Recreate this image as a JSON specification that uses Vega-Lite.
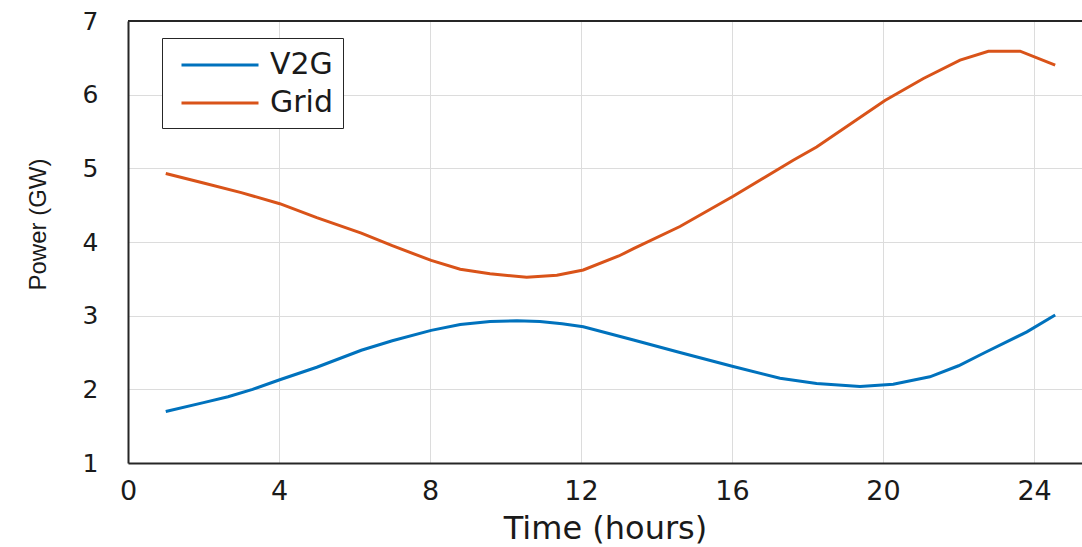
{
  "$schema": "https://vega.github.io/schema/vega-lite/v6.json",
  "width": 954,
  "height": 442,
  "autosize": {"type": "none"},
  "padding": {"left": 128, "top": 21, "right": 0, "bottom": 84},
  "background": "white",
  "config": {
    "view": {"stroke": null},
    "axis": {
      "domainColor": "#262626",
      "domainWidth": 2,
      "grid": true,
      "gridColor": "#dcdcdc",
      "gridWidth": 1,
      "ticks": false,
      "labelColor": "#1a1a1a",
      "titleColor": "#1a1a1a",
      "labelFlush": false,
      "titleFontWeight": "normal"
    }
  },
  "layer": [
    {
      "data": {"values": [{}]},
      "mark": {"type": "rule", "color": "#262626", "strokeWidth": 2},
      "encoding": {
        "y": {"datum": 7, "type": "quantitative", "scale": {"domain": [1, 7], "nice": false, "zero": false}}
      }
    },
    {
      "data": {
        "values": [
          {"t": 1.0, "v": 1.70, "series": "V2G"},
          {"t": 2.0, "v": 1.82, "series": "V2G"},
          {"t": 2.65, "v": 1.90, "series": "V2G"},
          {"t": 3.3, "v": 2.00, "series": "V2G"},
          {"t": 4.02, "v": 2.13, "series": "V2G"},
          {"t": 5.0, "v": 2.30, "series": "V2G"},
          {"t": 6.18, "v": 2.53, "series": "V2G"},
          {"t": 7.0, "v": 2.66, "series": "V2G"},
          {"t": 8.03, "v": 2.80, "series": "V2G"},
          {"t": 8.8, "v": 2.88, "series": "V2G"},
          {"t": 9.59, "v": 2.92, "series": "V2G"},
          {"t": 10.3, "v": 2.93, "series": "V2G"},
          {"t": 10.91, "v": 2.92, "series": "V2G"},
          {"t": 11.5, "v": 2.89, "series": "V2G"},
          {"t": 12.06, "v": 2.85, "series": "V2G"},
          {"t": 13.39, "v": 2.67, "series": "V2G"},
          {"t": 14.62, "v": 2.50, "series": "V2G"},
          {"t": 16.03, "v": 2.31, "series": "V2G"},
          {"t": 17.27, "v": 2.15, "series": "V2G"},
          {"t": 18.24, "v": 2.08, "series": "V2G"},
          {"t": 19.39, "v": 2.04, "series": "V2G"},
          {"t": 20.27, "v": 2.07, "series": "V2G"},
          {"t": 21.24, "v": 2.17, "series": "V2G"},
          {"t": 22.0, "v": 2.32, "series": "V2G"},
          {"t": 22.66, "v": 2.49, "series": "V2G"},
          {"t": 23.81, "v": 2.78, "series": "V2G"},
          {"t": 24.56, "v": 3.01, "series": "V2G"},
          {"t": 1.0, "v": 4.93, "series": "Grid"},
          {"t": 2.0, "v": 4.80, "series": "Grid"},
          {"t": 3.0, "v": 4.67, "series": "Grid"},
          {"t": 4.02, "v": 4.52, "series": "Grid"},
          {"t": 5.0, "v": 4.33, "series": "Grid"},
          {"t": 6.18, "v": 4.12, "series": "Grid"},
          {"t": 7.0, "v": 3.95, "series": "Grid"},
          {"t": 8.03, "v": 3.75, "series": "Grid"},
          {"t": 8.8, "v": 3.63, "series": "Grid"},
          {"t": 9.59, "v": 3.57, "series": "Grid"},
          {"t": 10.56, "v": 3.52, "series": "Grid"},
          {"t": 11.36, "v": 3.55, "series": "Grid"},
          {"t": 12.06, "v": 3.62, "series": "Grid"},
          {"t": 13.0, "v": 3.81, "series": "Grid"},
          {"t": 13.39, "v": 3.91, "series": "Grid"},
          {"t": 14.62, "v": 4.21, "series": "Grid"},
          {"t": 16.03, "v": 4.62, "series": "Grid"},
          {"t": 17.62, "v": 5.11, "series": "Grid"},
          {"t": 18.24, "v": 5.29, "series": "Grid"},
          {"t": 20.05, "v": 5.92, "series": "Grid"},
          {"t": 21.07, "v": 6.22, "series": "Grid"},
          {"t": 22.04, "v": 6.47, "series": "Grid"},
          {"t": 22.79, "v": 6.59, "series": "Grid"},
          {"t": 23.63, "v": 6.59, "series": "Grid"},
          {"t": 24.56, "v": 6.40, "series": "Grid"}
        ]
      },
      "mark": {"type": "line", "strokeWidth": 3},
      "encoding": {
        "x": {
          "field": "t",
          "type": "quantitative",
          "scale": {"domain": [0, 25.27], "nice": false},
          "axis": {
            "values": [0, 4, 8, 12, 16, 20, 24],
            "format": "d",
            "title": "Time (hours)",
            "labelFont": "DejaVu Sans",
            "labelFontSize": 27,
            "labelPadding": 15,
            "titleFont": "DejaVu Sans",
            "titleFontSize": 32,
            "titlePadding": 9
          }
        },
        "y": {
          "field": "v",
          "type": "quantitative",
          "scale": {"domain": [1, 7], "nice": false, "zero": false},
          "axis": {
            "values": [1, 2, 3, 4, 5, 6, 7],
            "format": "d",
            "title": "Power (GW)",
            "labelFont": "DejaVu Sans",
            "labelFontSize": 25,
            "labelPadding": 30,
            "titleFont": "Liberation Sans",
            "titleFontSize": 24,
            "titleAngle": -90,
            "titleBaseline": "bottom",
            "titleX": -78,
            "titleY": 203
          }
        },
        "color": {
          "field": "series",
          "type": "nominal",
          "scale": {"domain": ["V2G", "Grid"], "range": ["#0072BD", "#D95319"]},
          "legend": {
            "orient": "none",
            "legendX": 34,
            "legendY": 17,
            "title": null,
            "strokeColor": "#262626",
            "fillColor": "white",
            "padding": 10,
            "symbolType": "M-2.5,0H2.5",
            "symbolSize": 949,
            "symbolStrokeWidth": 3,
            "symbolOffset": 31,
            "labelOffset": 33,
            "labelFont": "DejaVu Sans",
            "labelFontSize": 30,
            "labelColor": "#1a1a1a",
            "rowPadding": 6
          }
        }
      }
    }
  ]
}
